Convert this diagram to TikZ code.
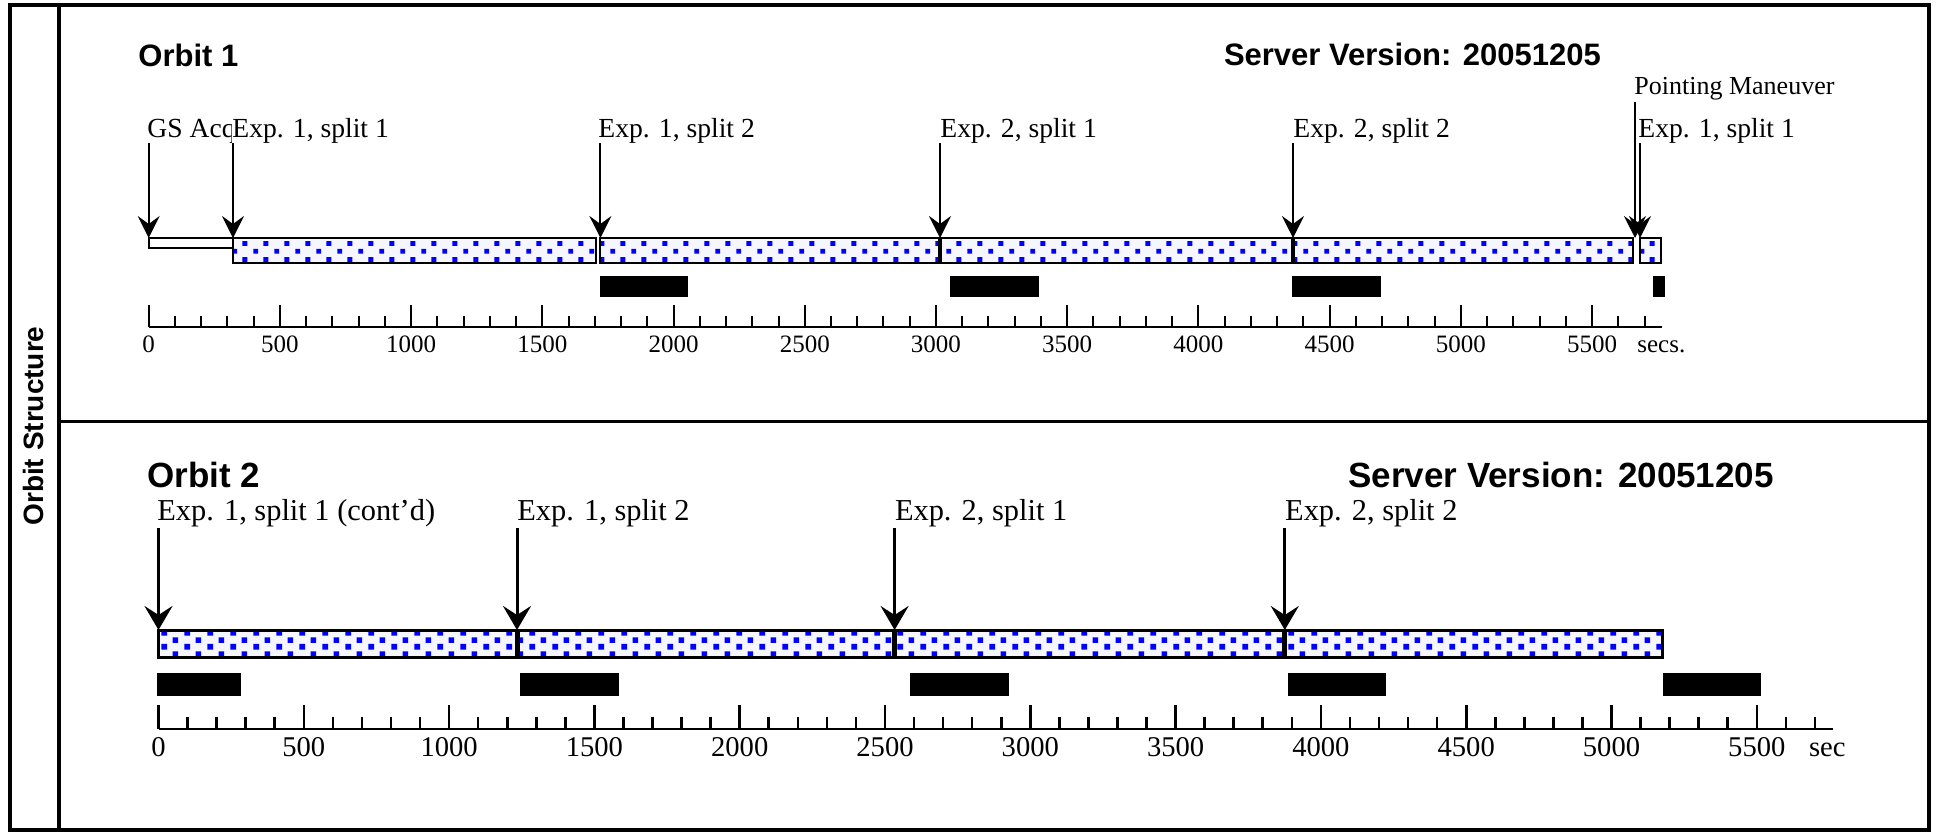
\documentclass[tikz,border=0pt]{standalone}
\usepackage{fontspec}
\setmainfont{Liberation Serif}
\newfontfamily\hsans{Liberation Sans}
\usetikzlibrary{arrows.meta,patterns}
\definecolor{bgc}{RGB}{246,246,255}
\pgfdeclarepatternformonly{dotsA}{\pgfqpoint{0pt}{0pt}}{\pgfqpoint{10.5pt}{8pt}}{\pgfqpoint{10.5pt}{8pt}}{%
  \pgfpathrectangle{\pgfqpoint{0.75pt}{0.75pt}}{\pgfqpoint{2.5pt}{2.5pt}}%
  \pgfpathrectangle{\pgfqpoint{6pt}{4.75pt}}{\pgfqpoint{2.5pt}{2.5pt}}%
  \pgfusepath{fill}}
\pgfdeclarepatternformonly{dotsB}{\pgfqpoint{0pt}{0pt}}{\pgfqpoint{11.5pt}{7pt}}{\pgfqpoint{11.5pt}{7pt}}{%
  \pgfpathrectangle{\pgfqpoint{0.25pt}{0.25pt}}{\pgfqpoint{2.9pt}{2.9pt}}%
  \pgfpathrectangle{\pgfqpoint{6pt}{3.75pt}}{\pgfqpoint{2.9pt}{2.9pt}}%
  \pgfusepath{fill}}
\begin{document}
\begin{tikzpicture}[x=0.5pt,y=-0.5pt,
  lab1/.style={anchor=base west, inner sep=0pt, font=\fontsize{13.8}{16}\selectfont},
  lab2/.style={anchor=base west, inner sep=0pt, font=\fontsize{15.2}{18}\selectfont},
  num1/.style={anchor=base, inner sep=0pt, font=\fontsize{12.5}{14}\selectfont},
  num2/.style={anchor=base, inner sep=0pt, font=\fontsize{14.3}{16}\selectfont},
  ttl1/.style={anchor=base west, inner sep=0pt, font=\hsans\bfseries\fontsize{15.5}{18}\selectfont},
  ttl2/.style={anchor=base west, inner sep=0pt, font=\hsans\bfseries\fontsize{17.5}{20}\selectfont},
  arr1/.style={line width=1pt, -{Stealth[length=11pt,width=11pt,inset=4pt]}},
  arr2/.style={line width=1.5pt, -{Stealth[length=12pt,width=14pt,inset=4.5pt]}},
  seg1/.style={draw, line width=1pt, preaction={fill=bgc}, pattern=dotsA, pattern color=blue},
  seg2/.style={draw, line width=1.5pt, preaction={fill=bgc}, pattern=dotsB, pattern color=blue},
  wbar/.style={draw, line width=1pt, fill=white},
  ax1/.style={line width=1pt},
  ax2/.style={line width=1.3pt}]
\useasboundingbox (0,0) rectangle (1939,831);
% frame
\draw[line width=2pt] (9.5,5.3) rectangle (1929,829.5);
\draw[line width=1.75pt] (59,5.3) -- (59,829.5);
\draw[line width=1.75pt] (59,421.5) -- (1929,421.5);
\node[rotate=90, font=\hsans\bfseries\fontsize{14}{16}\selectfont, inner sep=0pt] (os) at (33,426) {Orbit Structure};

% ---------- Orbit 1 ----------
\node[ttl1] (o1) at (138,66.5) {Orbit 1};
\node[ttl1] (sv1) at (1223.6,65.5) {Server Version: 20051205};

\node[lab1] (gs) at (147,137) {GS Acq};
\node[lab1, fill=white] (e11) at (232,137) {Exp. 1, split 1};
\node[lab1] (e12) at (598,137) {Exp. 1, split 2};
\node[lab1] (e21) at (940,137) {Exp. 2, split 1};
\node[lab1] (e22) at (1293,137) {Exp. 2, split 2};
\node[lab1, font=\fontsize{13}{15}\selectfont] (pm) at (1634,94) {Pointing Maneuver};
\node[lab1] (e11b) at (1638,137) {Exp. 1, split 1};

% bars
\draw[wbar] (148.7,238) rectangle (233,248);
\draw[seg1] (233,238) rectangle (596,263);
\draw[seg1] (599.5,238) rectangle (940,263);
\draw[seg1] (940,238) rectangle (1293,263);
\draw[seg1] (1293,238) rectangle (1632.5,263);
\draw[seg1] (1639.5,238) rectangle (1661,263);
\draw[line width=1.6pt] (940,238) -- (940,263);
\draw[line width=1.6pt] (1293,238) -- (1293,263);

% arrows
\coordinate (s1a) at (148.7,143); \coordinate (t1a) at (148.7,238);
\coordinate (s1b) at (233,143);   \coordinate (t1b) at (233,238);
\coordinate (s1c) at (600.4,143); \coordinate (t1c) at (600.4,238);
\coordinate (s1d) at (940,143);   \coordinate (t1d) at (940,238);
\coordinate (s1e) at (1293,143);  \coordinate (t1e) at (1293,238);
\coordinate (s1f) at (1635,102);  \coordinate (t1f) at (1635,238);
\coordinate (s1g) at (1640,143);  \coordinate (t1g) at (1640,238);
\foreach \p in {a,b,c,d,e,f,g} \draw[arr1] (s1\p) -- (t1\p);

% black bars
\fill (599.5,276) rectangle (687.5,297);
\fill (950.4,276) rectangle (1039.3,297);
\fill (1292,276) rectangle (1380.7,297);
\fill (1652.5,276) rectangle (1664.5,297);

% axis
\draw[ax1] (148.7,326.7) -- (1661.5,326.7);
\foreach \k in {0,...,57} \draw[ax1] ({148.7+\k*26.242},316) -- ++(0,10.7);
\foreach \k in {0,...,11} {
  \draw[ax1] ({148.7+\k*131.21},305) -- ++(0,21.7);
  \node[num1] (n1-\k) at ({148.7+\k*131.21},352) {\the\numexpr\k*500\relax};
}
\node[num1, anchor=base west] (secs1) at (1637,352) {secs.};

% ---------- Orbit 2 ----------
\node[ttl2] (o2) at (147,487) {Orbit 2};
\node[ttl2] (sv2) at (1348,487) {Server Version: 20051205};

\node[lab2] (f11) at (157,520) {Exp. 1, split 1 (cont'd)};
\node[lab2] (f12) at (517,520) {Exp. 1, split 2};
\node[lab2] (f21) at (894.6,520) {Exp. 2, split 1};
\node[lab2] (f22) at (1284.8,520) {Exp. 2, split 2};

\draw[seg2] (158.5,630) rectangle (517,657);
\draw[seg2] (517,630) rectangle (894.6,657);
\draw[seg2] (894.6,630) rectangle (1284.8,657);
\draw[seg2] (1284.8,630) rectangle (1662,657);
\draw[line width=2.5pt] (517,630) -- (517,657);
\draw[line width=2.5pt] (894.6,630) -- (894.6,657);
\draw[line width=2.5pt] (1284.8,630) -- (1284.8,657);

\coordinate (s2a) at (158.5,528); \coordinate (t2a) at (158.5,630);
\coordinate (s2b) at (517,528);   \coordinate (t2b) at (517,630);
\coordinate (s2c) at (894.6,528); \coordinate (t2c) at (894.6,630);
\coordinate (s2d) at (1284.8,528);\coordinate (t2d) at (1284.8,630);
\foreach \p in {a,b,c,d} \draw[arr2] (s2\p) -- (t2\p);

\fill (157,673.3) rectangle (241,695.7);
\fill (520,673.3) rectangle (619,695.7);
\fill (909.8,673.3) rectangle (1008.9,695.7);
\fill (1288.3,673.3) rectangle (1385.6,695.7);
\fill (1663,673.3) rectangle (1761,695.7);

\draw[ax2] (158.5,729) -- (1833,729);
\foreach \k in {0,...,57} \draw[ax2] ({158.5+\k*29.06},716.7) -- ++(0,12.3);
\foreach \k in {0,...,11} {
  \draw[ax2] ({158.5+\k*145.3},705) -- ++(0,24);
  \node[num2] (n2-\k) at ({158.5+\k*145.3},756) {\the\numexpr\k*500\relax};
}
\node[num2, anchor=base west] (secs2) at (1808.6,756) {sec};
\end{tikzpicture}
\end{document}
